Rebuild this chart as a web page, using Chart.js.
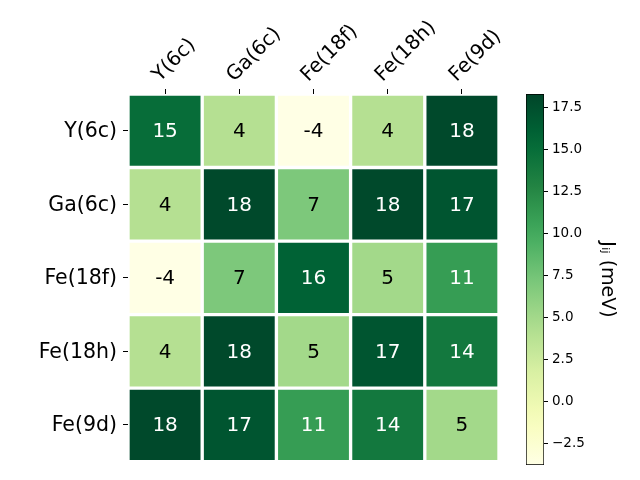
<!DOCTYPE html>
<html>
<head>
<meta charset="utf-8">
<script src="https://cdn.jsdelivr.net/npm/chart.js@4"></script>
<style>
  html, body { margin: 0; padding: 0; background: #fff; }
  #wrap { position: relative; width: 640px; height: 480px; }
  canvas { position: absolute; top: 0; }
  #heat { left: 0; }
  #cbar { left: 500px; }
</style>
</head>
<body>
<div id="wrap">
  <canvas id="heat" width="640" height="480"></canvas>
  <canvas id="cbar" width="140" height="480"></canvas>
</div>
<script>
// Data: exchange constants J_ij (meV) between sites
const sites = ['Y(6c)', 'Ga(6c)', 'Fe(18f)', 'Fe(18h)', 'Fe(9d)'];
const rowY6c   = [15, 4, -4, 4, 18];
const rowGa6c  = [4, 18, 7, 18, 17];
const rowFe18f = [-4, 7, 16, 5, 11];
const rowFe18h = [4, 18, 5, 17, 14];
const rowFe9d  = [18, 17, 11, 14, 5];
const jij = [rowY6c, rowGa6c, rowFe18f, rowFe18h, rowFe9d];

// Colorbar range and ticks
const cbarMin = -3.8;
const cbarMax = 18.3;
const cbarTicks = [-2.5, 0, 2.5, 5, 7.5, 10, 12.5, 15, 17.5];

Chart.defaults.font.family = 'DejaVu Sans';
Chart.defaults.color = '#000';

// YlGn colormap
const ylgnStops = ['#ffffe5', '#f7fcb9', '#d9f0a3', '#addd8e', '#78c679', '#41ab5d', '#238443', '#006837', '#004529'];
function hexToRgb(h) {
    return [parseInt(h.slice(1, 3), 16), parseInt(h.slice(3, 5), 16), parseInt(h.slice(5, 7), 16)];
}
function ylgn(t) {
    t = Math.max(0, Math.min(1, t));
    const pos = t * (ylgnStops.length - 1);
    const i = Math.min(Math.floor(pos), ylgnStops.length - 2);
    const f = pos - i;
    const a = hexToRgb(ylgnStops[i]), b = hexToRgb(ylgnStops[i + 1]);
    const c = a.map((v, k) => Math.round(v + (b[k] - v) * f));
    return 'rgb(' + c.join(',') + ')';
}
const norm = v => (v - cbarMin) / (cbarMax - cbarMin);

// Writes the value in the middle of each cell
const cellText = {
    id: 'cellText',
    afterDatasetsDraw(chart) {
        const ctx = chart.ctx;
        ctx.save();
        ctx.font = '20px "DejaVu Sans"';
        ctx.textAlign = 'center';
        ctx.textBaseline = 'middle';
        chart.data.datasets.forEach((ds, i) => {
            chart.getDatasetMeta(i).data.forEach((bar, j) => {
                const v = ds.jvalues[j];
                const p = bar.getCenterPoint();
                ctx.fillStyle = norm(v) > 0.5 ? '#fff' : '#000';
                ctx.fillText(String(v), p.x, p.y + 1);
            });
        });
        ctx.restore();
    }
};

// Heatmap: one row of floating bars per site
new Chart(document.getElementById('heat'), {
    type: 'bar',
    data: {
        labels: sites,
        datasets: jij.map((row, r) => ({
            data: row.map(() => [sites.length - 1 - r, sites.length - r]),
            jvalues: row,
            backgroundColor: row.map(v => ylgn(norm(v))),
            borderColor: '#fff',
            borderWidth: 2,
            borderSkipped: false,
            barPercentage: 1,
            categoryPercentage: 1,
            grouped: false
        }))
    },
    options: {
        responsive: false,
        animation: false,
        devicePixelRatio: 1,
        layout: { padding: { left: 0, top: 0, right: 141, bottom: 15 } },
        plugins: { legend: { display: false }, tooltip: { enabled: false } },
        scales: {
            x: {
                position: 'top',
                grid: { offset: false, drawOnChartArea: false, tickLength: 5, color: '#000' },
                border: { display: false },
                ticks: { autoSkip: false, minRotation: 45, maxRotation: 45, font: { size: 20 }, padding: 2, labelOffset: 8 },
                afterFit: s => { s.height = 94; }
            },
            y: {
                min: 0,
                max: 5,
                grid: { drawOnChartArea: false, tickLength: 5, color: '#000' },
                border: { display: false },
                afterBuildTicks: s => { s.ticks = sites.map((_, i) => ({ value: i + 0.5 })); },
                ticks: {
                    font: { size: 20.5 },
                    padding: 6,
                    labelOffset: 1,
                    callback: v => sites[Math.round(sites.length - 0.5 - v)]
                },
                afterFit: s => { s.width = 128; }
            }
        }
    },
    plugins: [cellText]
});

// Colorbar: a single floating bar filled with the colormap
new Chart(document.getElementById('cbar'), {
    type: 'bar',
    data: {
        labels: [''],
        datasets: [{
            data: [[cbarMin, cbarMax]],
            backgroundColor: c => {
                const area = c.chart.chartArea;
                if (!area) return ylgn(0.5);
                const g = c.chart.ctx.createLinearGradient(0, area.bottom, 0, area.top);
                for (let k = 0; k <= 20; k++) g.addColorStop(k / 20, ylgn(k / 20));
                return g;
            },
            borderColor: '#000',
            borderWidth: 1,
            borderSkipped: false,
            barPercentage: 1,
            categoryPercentage: 1
        }]
    },
    options: {
        responsive: false,
        animation: false,
        devicePixelRatio: 1,
        layout: { padding: { left: 26, top: 94, right: 0, bottom: 15 } },
        plugins: { legend: { display: false }, tooltip: { enabled: false } },
        scales: {
            x: { display: false },
            y: {
                position: 'right',
                min: cbarMin,
                max: cbarMax,
                grid: { drawOnChartArea: false, tickLength: 4, color: '#000' },
                border: { display: false },
                afterBuildTicks: s => { s.ticks = cbarTicks.map(v => ({ value: v })); },
                ticks: {
                    font: { size: 13.5 },
                    padding: 4,
                    callback: v => v.toFixed(1).replace('-', '\u2212')
                },
                title: {
                    display: true,
                    text: 'J\u1D62\u2C7C (meV)',
                    font: { size: 19 },
                    padding: { top: 22, bottom: 0 }
                },
                afterFit: s => { s.width = 96; }
            }
        }
    }
});
</script>
</body>
</html>
